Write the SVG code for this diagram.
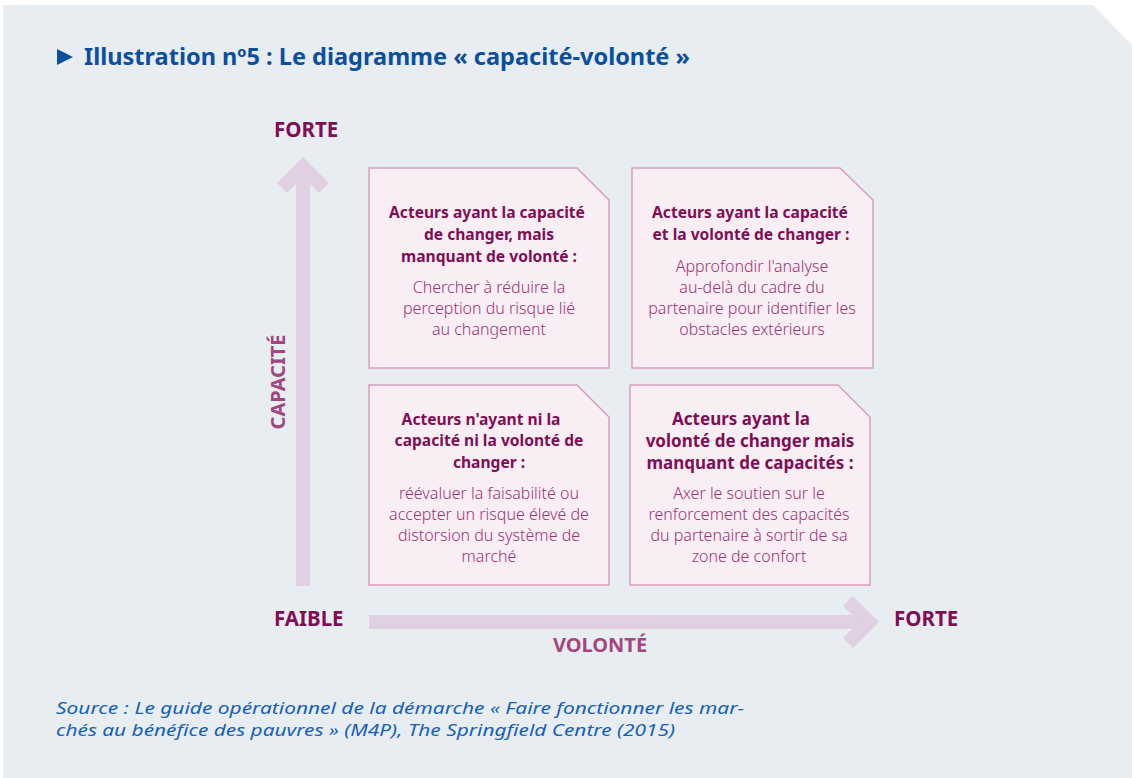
<svg xmlns="http://www.w3.org/2000/svg" width="1132" height="778" viewBox="0 0 1132 778">
  <defs>
    <style>
      .panel { fill: #e8edf1; }
      .axis { fill: none; stroke: #e1d0e1; stroke-width: 14; stroke-linejoin: miter; stroke-miterlimit: 10; }
      .box { fill: #f9eef3; stroke: #dc9cc1; stroke-width: 1.5; }
      .t { font-family: "Noto Sans", "Open Sans", "Liberation Sans", sans-serif; text-anchor: middle; }
      .head { font-size: 15.6px; font-weight: 700; fill: #7f0e55; }
      .head16 { font-size: 17px; font-weight: 700; fill: #7f0e55; }
      .body { font-size: 16px; font-weight: 300; fill: #9c3477; }
      .pole { font-family: "Noto Sans", "Open Sans", "Liberation Sans", sans-serif; font-size: 20.5px; font-weight: 700; fill: #7f0e55; }
      .axlabel { font-family: "Noto Sans", "Open Sans", "Liberation Sans", sans-serif; font-size: 20px; font-weight: 700; fill: #a3457f; text-anchor: middle; }
      .title { font-family: "Noto Sans", "Open Sans", "Liberation Sans", sans-serif; font-size: 23px; font-weight: 700; fill: #0b4f9e; }
      .source { font-family: "Noto Sans", "Open Sans", "Liberation Sans", sans-serif; font-size: 17px; font-style: italic; fill: #1761b5; }
    </style>
  </defs>

  <!-- page panel with clipped top-right corner -->
  <rect x="0" y="0" width="1132" height="778" fill="#ffffff"/>
  <polygon class="panel" points="3,5 1093,5 1132,45 1132,778 3,778"/>

  <!-- heading -->
  <polygon points="57,49 73,57 57,65" fill="#0b4f9e"/>
  <text class="title" x="84" y="65" textLength="606" lengthAdjust="spacingAndGlyphs">Illustration nº5 : Le diagramme « capacité-volonté »</text>

  <!-- axes -->
  <g id="connectors">
    <path class="axis" d="M303,586 V176"/>
    <polyline class="axis" points="282,188 303,167 324,188"/>
    <path class="axis" d="M369,622 H860"/>
    <polyline class="axis" points="848,601 869,622 848,643"/>
  </g>

  <!-- axis labels -->
  <text class="pole" x="274" y="137">FORTE</text>
  <text class="pole" x="274" y="626">FAIBLE</text>
  <text class="pole" x="894" y="626">FORTE</text>
  <text class="axlabel" x="600" y="652">VOLONTÉ</text>
  <text class="axlabel" transform="translate(285,382) rotate(-90)">CAPACITÉ</text>

  <!-- quadrant: capacity without will -->
  <g id="q-capacite-sans-volonte">
    <polygon class="box" points="369,168 577,168 609,200 609,368 369,368"/>
    <text class="t head" x="487" y="218">Acteurs ayant la capacité</text>
    <text class="t head" x="489" y="240">de changer, mais</text>
    <text class="t head" x="489" y="262">manquant de volonté :</text>
    <text class="t body" x="489" y="293">Chercher à réduire la</text>
    <text class="t body" x="489" y="314">perception du risque lié</text>
    <text class="t body" x="489" y="335">au changement</text>
  </g>

  <!-- quadrant: capacity and will -->
  <g id="q-capacite-et-volonte">
    <polygon class="box" points="632,168 840,168 873,200 873,368 632,368"/>
    <text class="t head" x="750" y="218">Acteurs ayant la capacité</text>
    <text class="t head" x="751" y="240">et la volonté de changer :</text>
    <text class="t body" x="752" y="272">Approfondir l'analyse</text>
    <text class="t body" x="752" y="293">au-delà du cadre du</text>
    <text class="t body" x="752" y="314">partenaire pour identifier les</text>
    <text class="t body" x="752" y="335">obstacles extérieurs</text>
  </g>

  <!-- quadrant: neither capacity nor will -->
  <g id="q-ni-capacite-ni-volonte">
    <polygon class="box" points="369,385 577,385 609,417 609,585 369,585"/>
    <text class="t head" x="481" y="425">Acteurs n'ayant ni la</text>
    <text class="t head" x="489" y="446">capacité ni la volonté de</text>
    <text class="t head" x="489" y="468">changer :</text>
    <text class="t body" x="489" y="499">réévaluer la faisabilité ou</text>
    <text class="t body" x="489" y="520">accepter un risque élevé de</text>
    <text class="t body" x="489" y="541">distorsion du système de</text>
    <text class="t body" x="489" y="562">marché</text>
  </g>

  <!-- quadrant: will without capacity -->
  <g id="q-volonte-sans-capacite">
    <polygon class="box" points="630,385 838,385 870,417 870,585 630,585"/>
    <text class="t head16" x="741" y="425">Acteurs ayant la</text>
    <text class="t head16" x="750" y="447">volonté de changer mais</text>
    <text class="t head16" x="750" y="469">manquant de capacités :</text>
    <text class="t body" x="749" y="499">Axer le soutien sur le</text>
    <text class="t body" x="749" y="520">renforcement des capacités</text>
    <text class="t body" x="749" y="541">du partenaire à sortir de sa</text>
    <text class="t body" x="749" y="562">zone de confort</text>
  </g>

  <!-- source note -->
  <text class="source" x="56" y="714" textLength="688" lengthAdjust="spacingAndGlyphs">Source : Le guide opérationnel de la démarche « Faire fonctionner les mar-</text>
  <text class="source" x="56" y="736" textLength="619" lengthAdjust="spacingAndGlyphs">chés au bénéfice des pauvres » (M4P), The Springfield Centre (2015)</text>
</svg>
